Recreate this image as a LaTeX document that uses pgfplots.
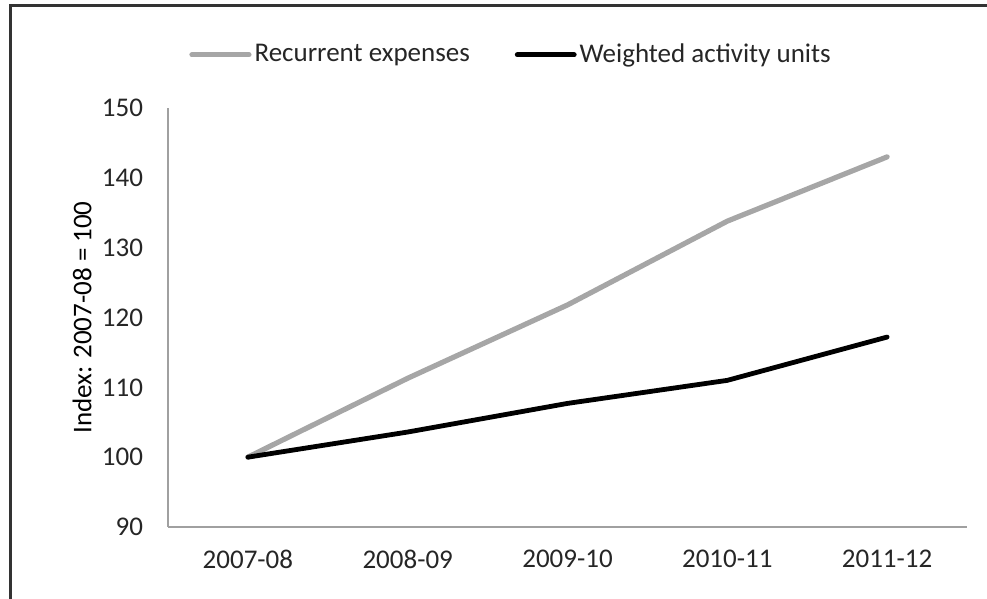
\documentclass[border=0pt]{standalone}
\usepackage{pgfplots}
\pgfplotsset{compat=1.18}
\usepackage{fontspec}
\setmainfont{Carlito}
\definecolor{txt}{HTML}{262626}
\definecolor{grayline}{HTML}{A6A6A6}
\definecolor{axisgray}{HTML}{A0A0A0}
\begin{document}
\begin{tikzpicture}
\useasboundingbox (0pt,0pt) rectangle (493.5pt,-299.5pt);
\draw[line width=1.5pt, color=black!80] (5pt,-299.5pt) -- (5pt,-3pt) -- (493.5pt,-3pt);
\begin{axis}[
  at={(84pt,-263.5pt)}, anchor=south west,
  scale only axis,
  width=399.5pt, height=209.5pt,
  xmin=-0.5, xmax=4.5, ymin=90, ymax=150,
  xtick={0,1,2,3,4},
  xticklabels={2007-08,2008-09,2009-10,2010-11,2011-12},
  ytick={90,100,110,120,130,140,150},
  axis x line*=bottom, axis y line*=left,
  axis line style={color=axisgray, line width=0.6pt, -},
  major tick length=0pt,
  font=\fontsize{13.5}{16}\selectfont,
  tick label style={color=txt, font=\fontsize{13.5}{16}\selectfont},
  /pgf/number format/assume math mode=true,
  yticklabel style={xshift=-9pt},
  xticklabel style={yshift=-8pt},
  ylabel={Index: 2007-08 = 100},
  ylabel style={color=txt, font=\fontsize{13.5}{16}\selectfont},
  every axis y label/.style={at={(axis description cs:-0.1076,0.5)}, rotate=90, anchor=center},
  legend columns=2,
  legend style={at={(0.43,1.127)}, anchor=center, draw=none, fill=none,
    font=\fontsize{13.5}{16}\selectfont, text=txt,
    /tikz/every even column/.append style={column sep=21pt},
    nodes={inner xsep=1.5pt}},
  legend image code/.code={\draw[#1] (0pt,0pt) -- (28.5pt,0pt);},
  clip=false,
]
\addplot[color=grayline, line width=2.6pt, line join=round, line cap=round] coordinates {
(0,100) (1,111.3) (2,121.8) (3,133.8) (4,143.0)};
\addlegendentry{Recurrent expenses}
\addplot[color=black, line width=2.4pt, line join=round, line cap=round] coordinates {
(0,100) (1,103.6) (2,107.7) (3,111.0) (4,117.2)};
\addlegendentry{Weighted activity units}
\end{axis}
\end{tikzpicture}
\end{document}
